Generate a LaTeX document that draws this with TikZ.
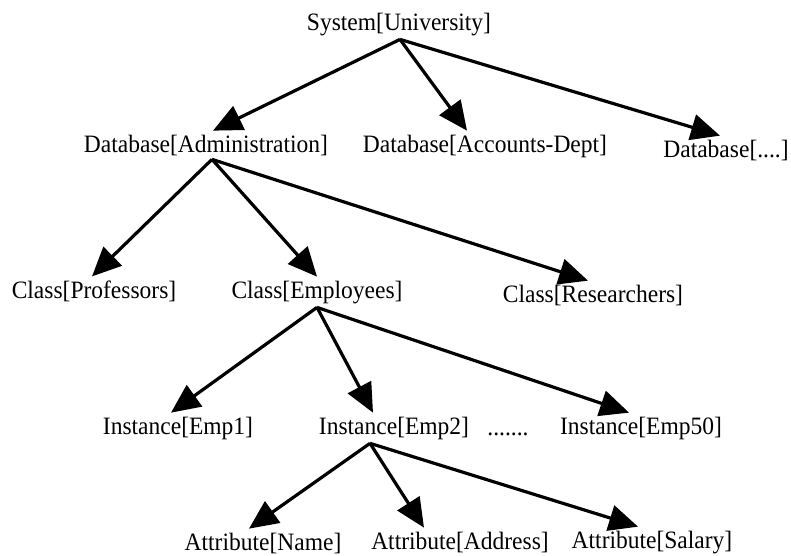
\documentclass[tikz,border=0pt]{standalone}
\usepackage{fontspec}
\setmainfont{Liberation Serif}[FakeStretch=0.94]
\usetikzlibrary{arrows.meta}

\begin{document}
\begin{tikzpicture}[x=1pt, y=-1pt,
  item/.style={font=\fontsize{25}{30}\selectfont, anchor=base, inner sep=0pt, outer sep=4pt},
  arr/.style={-{Triangle[length=29pt, width=26pt]}, line width=3.2pt},
]
\useasboundingbox (0,0) rectangle (791,555);
% --- System ---
\node[item] (sys) at (399,30) {System[University]};
% --- Databases ---
\node[item] (adm) at (206,152) {Database[Administration]};
\node[item] (acc) at (485,152) {Database[Accounts-Dept]};
\node[item] (dbx) at (726,157) {Database[....]};
% --- Classes ---
\node[item] (prof) at (94,298) {Class[Professors]};
\node[item] (empl) at (317,298) {Class[Employees]};
\node[item] (res) at (593,302) {Class[Researchers]};
% --- Instances ---
\node[item] (emp1) at (178,434) {Instance[Emp1]};
\node[item] (emp2) at (394,434) {Instance[Emp2]};
\node[item] (dots) at (508,435) {.......};
\node[item] (emp50) at (641,434) {Instance[Emp50]};
% --- Attributes ---
\node[item] (name) at (263,550) {Attribute[Name]};
\node[item] (addr) at (460,549) {Attribute[Address]};
\node[item] (sal) at (652,548) {Attribute[Salary]};

% --- Links ---
\draw[arr] ([xshift=1pt]sys.south) -- ([xshift=7pt]adm.north);
\draw[arr] ([xshift=1pt]sys.south) -- ([xshift=-18pt]acc.north);
\draw[arr] ([xshift=1pt]sys.south) -- ([xshift=-6pt]dbx.north);
\draw[arr] ([xshift=6pt]adm.south) -- ([xshift=-2pt]prof.north);
\draw[arr] ([xshift=6pt]adm.south) -- (empl.north);
\draw[arr] ([xshift=6pt]adm.south) -- ([xshift=-5pt]res.north);
\draw[arr] (empl.south) -- ([xshift=-7pt]emp1.north);
\draw[arr] (empl.south) -- ([xshift=-21pt]emp2.north);
\draw[arr] (empl.south) -- ([xshift=-12pt]emp50.north);
\draw[arr] ([xshift=-24pt]emp2.south) -- ([xshift=-14pt]name.north);
\draw[arr] ([xshift=-24pt]emp2.south) -- ([xshift=-36pt]addr.north);
\draw[arr] ([xshift=-24pt]emp2.south) -- ([xshift=-14pt]sal.north);
\end{tikzpicture}
\end{document}
